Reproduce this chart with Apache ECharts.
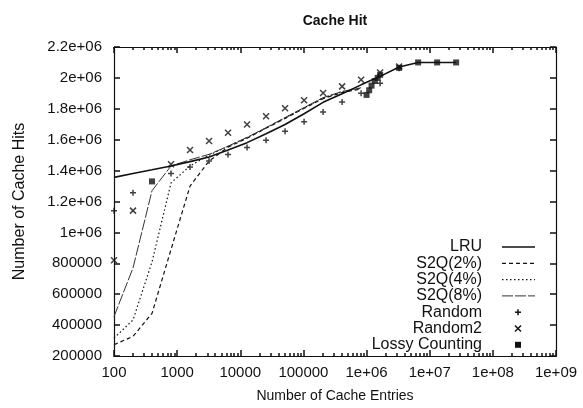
<!DOCTYPE html>
<html>
<head>
<meta charset="utf-8">
<script src="https://cdn.jsdelivr.net/npm/echarts@6/dist/echarts.min.js"></script>
<style>
  html, body { margin: 0; padding: 0; background: #fff; }
  #chart { width: 583px; height: 408px; }
</style>
</head>
<body>
<div id="chart"></div>
<script>
// Cache sizes (entries), doubling from 100
const cacheSizes = [100, 200, 400, 800, 1600, 3200, 6400, 12800, 25600, 51200, 102400,
  204800, 409600, 819200, 1638400, 3276800, 6553600, 13107200, 26214400];

// Hits per policy, aligned with cacheSizes (null = no measurement)
const lruHits = [1356000, 1381000, 1405000, 1430000, 1458000, 1488000, 1533000, 1581000,
  1638000, 1698000, 1768000, 1842000, 1897000, 1955000, 2010000, 2070000, 2100000, 2100000, 2100000];
const s2q2Hits = [273000, 327000, 476000, 890000, 1300000, 1462000, 1552000, 1610000,
  1674000, 1738000, 1803000, 1866000, 1905000, 1928000];
const s2q4Hits = [316000, 433000, 809000, 1320000, 1430000, 1500000, 1557000, 1613000,
  1676000, 1741000, 1806000, 1870000, 1910000, 1933000];
const s2q8Hits = [455000, 770000, 1270000, 1430000, 1470000, 1505000, 1558000, 1615000,
  1678000, 1743000, 1808000, 1872000, 1912000, 1936000];
const randomHits = [1140000, 1257000, null, 1381000, 1424000, 1462000, 1504000, 1549000,
  1597000, 1655000, 1716000, 1780000, 1844000, 1900000, 1965000, 2063000];
const random2Hits = [820000, 1141000, null, 1441000, 1533000, 1591000, 1645000, 1698000,
  1752000, 1803000, 1855000, 1902000, 1945000, 1988000, 2035000, 2073000];

// Lossy Counting runs
const lossySizes = [400, 1000000, 1100000, 1200000, 1350000, 1500000, 1640000,
  3276800, 6553600, 13107200, 26214400];
const lossyHits = [1330000, 1890000, 1920000, 1950000, 1980000, 2000000, 2020000,
  2065000, 2100000, 2100000, 2100000];

// Tick labels
const xTickLabels = ['100', '1000', '10000', '100000', '1e+06', '1e+07', '1e+08', '1e+09'];
const yTickLabels = ['200000', '400000', '600000', '800000', '1e+06', '1.2e+06',
  '1.4e+06', '1.6e+06', '1.8e+06', '2e+06', '2.2e+06'];

// Minor log ticks at 2..9 of each decade
const minorTicks = [];
for (let d = 100; d < 1e9; d *= 10) {
  for (let m = 2; m <= 9; m++) minorTicks.push(m * d);
}

const INK = '#111';
const FONT = 'Liberation Sans, Arial, Helvetica, sans-serif';

const pairs = (xs, ys) => ys.map((y, i) => [xs[i], y]).filter(p => p[1] !== null);

const PLUS = 'path://M0,5L10,5M5,0L5,10';
const CROSS = 'path://M0,0L10,10M10,0L0,10';

const chart = echarts.init(document.getElementById('chart'), null, { renderer: 'canvas' });

const xBase = { type: 'log', logBase: 10, min: 100, max: 1e9, gridIndex: 0 };
const frameLine = { show: true, onZero: false, lineStyle: { color: INK, width: 1.2 } };
const tick = (len, extra) => Object.assign({ show: true, inside: true, length: len, lineStyle: { color: INK, width: 1.5 } }, extra || {});
const bare = { axisLine: frameLine, axisLabel: { show: false }, splitLine: { show: false } };

const option = {
  backgroundColor: '#fff',
  animation: false,
  grid: { left: 114, right: 27, top: 47, bottom: 50, show: false },
  xAxis: [
    Object.assign({}, xBase, {
      position: 'bottom',
      axisLine: frameLine,
      splitLine: { show: false },
      axisTick: tick(6),
      axisLabel: {
        margin: 9, color: INK, fontFamily: FONT, fontSize: 15,
        formatter: v => xTickLabels[Math.round(Math.log10(v)) - 2]
      },
      name: 'Number of Cache Entries', nameLocation: 'middle', nameGap: 33,
      nameTextStyle: { color: INK, fontFamily: FONT, fontSize: 14 }
    }),
    Object.assign({}, xBase, bare, { position: 'bottom', axisTick: tick(3, { customValues: minorTicks }) }),
    Object.assign({}, xBase, bare, { position: 'top', axisTick: tick(6) }),
    Object.assign({}, xBase, bare, { position: 'top', axisTick: tick(3, { customValues: minorTicks }) })
  ],
  yAxis: [
    {
      type: 'value', min: 200000, max: 2200000, interval: 200000, position: 'left',
      axisLine: frameLine,
      splitLine: { show: false },
      axisTick: tick(6),
      axisLabel: {
        margin: 12, color: INK, fontFamily: FONT, fontSize: 15,
        formatter: v => yTickLabels[Math.round((v - 200000) / 200000)]
      },
      name: 'Number of Cache Hits', nameLocation: 'middle', nameGap: 86,
      nameTextStyle: { color: INK, fontFamily: FONT, fontSize: 16 }
    },
    Object.assign({
      type: 'value', min: 200000, max: 2200000, interval: 200000, position: 'right',
      axisTick: tick(6)
    }, bare)
  ],
  series: [
    {
      name: 'LRU', type: 'line', data: pairs(cacheSizes, lruHits), symbol: 'none',
      lineStyle: { color: INK, width: 1.6 }, z: 3
    },
    {
      name: 'S2Q(2%)', type: 'line', data: pairs(cacheSizes, s2q2Hits), symbol: 'none',
      lineStyle: { color: INK, width: 1.2, type: [4, 3] }, z: 2
    },
    {
      name: 'S2Q(4%)', type: 'line', data: pairs(cacheSizes, s2q4Hits), symbol: 'none',
      lineStyle: { color: INK, width: 1.2, type: [1.5, 2.5] }, z: 2
    },
    {
      name: 'S2Q(8%)', type: 'line', data: pairs(cacheSizes, s2q8Hits), symbol: 'none',
      lineStyle: { color: '#333', width: 1, type: [11, 2] }, z: 2
    },
    {
      name: 'Random', type: 'scatter', data: pairs(cacheSizes, randomHits),
      symbol: PLUS, symbolSize: 6,
      itemStyle: { color: 'transparent', borderColor: INK, borderWidth: 1.5 }, z: 4
    },
    {
      name: 'Random2', type: 'scatter', data: pairs(cacheSizes, random2Hits),
      symbol: CROSS, symbolSize: 6,
      itemStyle: { color: 'transparent', borderColor: INK, borderWidth: 1.5 }, z: 4
    },
    {
      name: 'Lossy Counting', type: 'scatter', data: pairs(lossySizes, lossyHits),
      symbol: 'rect', symbolSize: 6,
      itemStyle: { color: INK }, z: 4
    }
  ],
  graphic: []
};

// Title
option.graphic.push({
  type: 'text', x: 335, y: 21, silent: true,
  style: { text: 'Cache Hit', fill: INK, font: 'bold 14px ' + FONT, textAlign: 'center', textVerticalAlign: 'middle' }
});

// Key: labels right-aligned, sample to the right
const keyRows = [
  { name: 'LRU', line: { lineWidth: 1.6 } },
  { name: 'S2Q(2%)', line: { lineWidth: 1.2, lineDash: [4, 3] } },
  { name: 'S2Q(4%)', line: { lineWidth: 1.2, lineDash: [1.5, 2.5] } },
  { name: 'S2Q(8%)', line: { lineWidth: 1, lineDash: [11, 2], stroke: '#333' } },
  { name: 'Random', mark: 'plus' },
  { name: 'Random2', mark: 'cross' },
  { name: 'Lossy Counting', mark: 'square' }
];
const keyTop = 247, keyStep = 16.3, keyTextRight = 482, keyX1 = 502, keyX2 = 535, keyMid = 518;
keyRows.forEach((row, i) => {
  const y = keyTop + i * keyStep;
  option.graphic.push({
    type: 'text', x: keyTextRight, y: y, silent: true,
    style: { text: row.name, fill: INK, font: '16px ' + FONT, textAlign: 'right', textVerticalAlign: 'middle' }
  });
  if (row.line) {
    option.graphic.push({
      type: 'line', silent: true,
      shape: { x1: keyX1, y1: y, x2: keyX2, y2: y },
      style: Object.assign({ stroke: INK }, row.line)
    });
  } else if (row.mark === 'plus') {
    option.graphic.push({ type: 'line', silent: true, shape: { x1: keyMid - 3, y1: y, x2: keyMid + 3, y2: y }, style: { stroke: INK, lineWidth: 1.5 } });
    option.graphic.push({ type: 'line', silent: true, shape: { x1: keyMid, y1: y - 3, x2: keyMid, y2: y + 3 }, style: { stroke: INK, lineWidth: 1.5 } });
  } else if (row.mark === 'cross') {
    option.graphic.push({ type: 'line', silent: true, shape: { x1: keyMid - 3, y1: y - 3, x2: keyMid + 3, y2: y + 3 }, style: { stroke: INK, lineWidth: 1.5 } });
    option.graphic.push({ type: 'line', silent: true, shape: { x1: keyMid + 3, y1: y - 3, x2: keyMid - 3, y2: y + 3 }, style: { stroke: INK, lineWidth: 1.5 } });
  } else {
    option.graphic.push({ type: 'rect', silent: true, shape: { x: keyMid - 3, y: y - 3, width: 6, height: 6 }, style: { fill: INK } });
  }
});

chart.setOption(option);
</script>
</body>
</html>
